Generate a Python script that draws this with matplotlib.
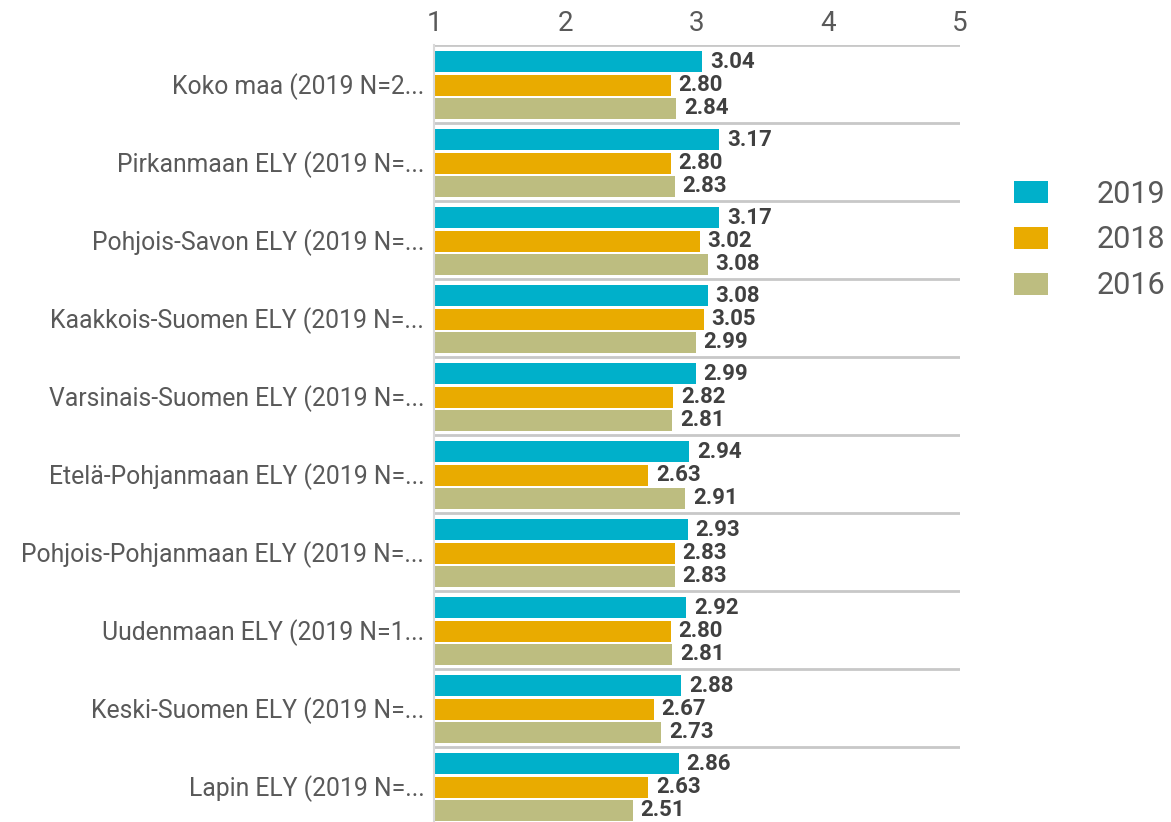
import numpy as np
import matplotlib.pyplot as plt
from matplotlib.patches import Patch

categories = ["Koko maa (2019 N=2...", "Pirkanmaan ELY (2019 N=...", "Pohjois-Savon ELY (2019 N=...",
              "Kaakkois-Suomen ELY (2019 N=...", "Varsinais-Suomen ELY (2019 N=...",
              "Etelä-Pohjanmaan ELY (2019 N=...", "Pohjois-Pohjanmaan ELY (2019 N=...",
              "Uudenmaan ELY (2019 N=1...", "Keski-Suomen ELY (2019 N=...", "Lapin ELY (2019 N=..."]
v2019 = [3.04, 3.17, 3.17, 3.08, 2.99, 2.94, 2.93, 2.92, 2.88, 2.86]
v2018 = [2.80, 2.80, 3.02, 3.05, 2.82, 2.63, 2.83, 2.80, 2.67, 2.63]
v2016 = [2.84, 2.83, 3.08, 2.99, 2.81, 2.91, 2.83, 2.81, 2.73, 2.51]
years = ["2019", "2018", "2016"]
colors = ["#00b0ca", "#e9ab00", "#bdbd80"]

plt.rcParams['font.family'] = ['Roboto', 'DejaVu Sans']

fig = plt.figure(figsize=(11.71, 8.22), dpi=100)
ax = fig.add_axes([434 / 1171, -3 / 822, 526 / 1171, 780 / 822])

n = len(categories)
y = np.arange(n)
offsets = [-0.285, 0.015, 0.31]
for vals, off, c in zip([v2019, v2018, v2016], offsets, colors):
    vals = np.array(vals)
    ax.barh(y + off, vals - 1, left=1, height=0.27, color=c)
    for yi, v in zip(y + off, vals):
        ax.text(v + 0.06, yi, f"{v:.2f}", va='center', ha='left', fontsize=16,
                fontweight='bold', color='#404040')

ax.set_xlim(1, 5)
ax.set_ylim(n - 0.5, -0.5)
ax.xaxis.tick_top()
ax.set_xticks([1, 2, 3, 4, 5])
ax.tick_params(axis='x', length=0, pad=6, labelsize=20, labelcolor='#595959')
ax.set_yticks(y, categories)
ax.tick_params(axis='y', length=0, pad=7, labelsize=17.8, labelcolor='#595959')

for s in ['top', 'right', 'bottom']:
    ax.spines[s].set_visible(False)
ax.spines['left'].set_color('#d9d9d9')
ax.spines['left'].set_linewidth(1.5)
for b in np.arange(n) - 0.5:
    ax.axhline(b, color='#c8c8c8', linewidth=2)

handles = [Patch(facecolor=c, label=l) for c, l in zip(colors, years)]
fig.legend(handles=handles, loc='center left', bbox_to_anchor=(1014 / 1171, 1 - 240 / 822),
           frameon=False, fontsize=22, handlelength=1.1, handleheight=0.72,
           handletextpad=1.6, labelspacing=0.55, borderpad=0, borderaxespad=0,
           labelcolor='#595959')

fig.savefig("out.png", dpi=100)
